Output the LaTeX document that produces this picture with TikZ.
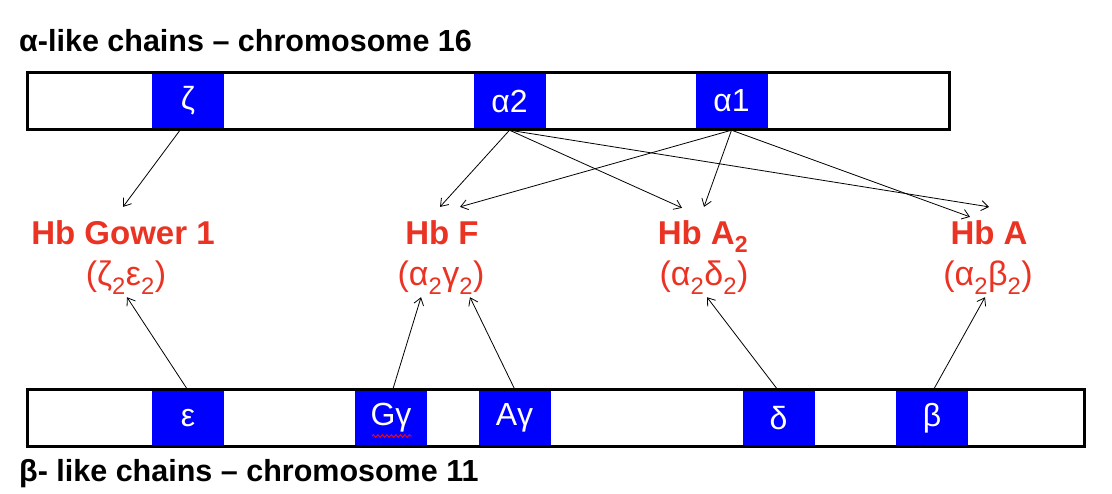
\documentclass[tikz,border=0pt]{standalone}
\usepackage{fontspec}
\setmainfont{Liberation Sans}
\usetikzlibrary{arrows.meta,calc,decorations.pathmorphing}
\definecolor{hbred}{RGB}{234,51,35}
\definecolor{geneblue}{RGB}{0,0,255}
\begin{document}
\begin{tikzpicture}[x=1pt,y=-1pt,
  bar/.style={draw=black,line width=3pt},
  gene/.style={fill=geneblue,text=white,inner sep=0pt,minimum width=72pt,minimum height=54pt,font=\fontsize{32}{34}\selectfont},
  chtitle/.style={anchor=base west,inner sep=0pt,font=\bfseries\fontsize{30.5}{32}\selectfont},
  hbname/.style={anchor=base,inner sep=0pt,text=hbred,font=\bfseries\fontsize{33}{35}\selectfont},
  hbform/.style={anchor=base,inner sep=0pt,text=hbred,font=\fontsize{34}{36}\selectfont},
  link/.style={line width=0.8pt,-{Straight Barb[length=7pt,width=10pt]}}]
\useasboundingbox (0,0) rectangle (1112,494);
\fill[white] (0,0) rectangle (1112,494);

% titles
\node[chtitle] (ttop) at (19,52) {α-like chains – chromosome 16};
\node[chtitle] (tbot) at (19,481) {β- like chains – chromosome 11};

% bars
\draw[bar] (27.7,73) rectangle (949.7,129.5);
\draw[bar] (27.7,389.7) rectangle (1084.2,446.8);

% alpha genes
\node[gene] (zeta) at (188,101) {ζ};
\node[gene] (a2) at (509.5,101) {α2};
\node[gene] (a1) at (731.5,101) {α1};

% beta genes
\node[gene] (eps) at (188,418) {ε};
\node[gene] (gg) at (391,418) {Gγ};
\node[gene] (ag) at (514.5,418) {Aγ};
\node[gene] (del) at (778.5,418) {δ};
\node[gene] (bet) at (932,418) {β};
\draw[red,line width=0.9pt,decorate,decoration={snake,amplitude=1.3pt,segment length=4.5pt}] (372,436) -- (412,436);

% hemoglobins
\node[hbname] (gower) at (123,245) {Hb Gower 1};
\node[hbform] (gowerf) at (126,286) {(ζ\textsubscript{2}ε\textsubscript{2})};
\node[hbname] (hbf) at (442,245) {Hb F};
\node[hbform] (hbff) at (441,286) {(α\textsubscript{2}γ\textsubscript{2})};
\node[hbname] (hba2) at (703,245) {Hb A\textsubscript{2}};
\node[hbform] (hba2f) at (704,286) {(α\textsubscript{2}δ\textsubscript{2})};
\node[hbname] (hba) at (989,245) {Hb A};
\node[hbform] (hbaf) at (988,286) {(α\textsubscript{2}β\textsubscript{2})};

% alpha-chain links
\draw[link] ([xshift=-8pt,yshift=-2pt]zeta.south) -- ([yshift=14pt]gower.north);
\draw[link] ([yshift=-2pt]a2.south) -- ([xshift=-2pt,yshift=14pt]hbf.north);
\draw[link] ([yshift=-2pt]a2.south) -- ([xshift=-21pt,yshift=13pt]hba2.north);
\draw[link] ([yshift=-2pt]a2.south) -- ([yshift=14pt]hba.north);
\draw[link] ([yshift=-2pt]a1.south) -- ([xshift=18pt,yshift=14pt]hbf.north);
\draw[link] ([yshift=-2pt]a1.south) -- ([xshift=1pt,yshift=14pt]hba2.north);
\draw[link] ([yshift=-2pt]a1.south) -- ([xshift=-19pt,yshift=4pt]hba.north);

% beta-chain links
\draw[link] ([xshift=-1pt,yshift=2pt]eps.north) -- ([xshift=1pt,yshift=-3pt]gowerf.south);
\draw[link] ([xshift=2pt,yshift=2pt]gg.north) -- ([xshift=-20pt,yshift=-3pt]hbff.south);
\draw[link] ([yshift=2pt]ag.north) -- ([xshift=29pt,yshift=-3pt]hbff.south);
\draw[link] ([xshift=-1.5pt,yshift=2pt]del.north) -- ([xshift=3pt,yshift=-3pt]hba2f.south);
\draw[link] ([xshift=2pt,yshift=2pt]bet.north) -- ([xshift=-3pt,yshift=-3pt]hbaf.south);
\end{tikzpicture}
\end{document}
